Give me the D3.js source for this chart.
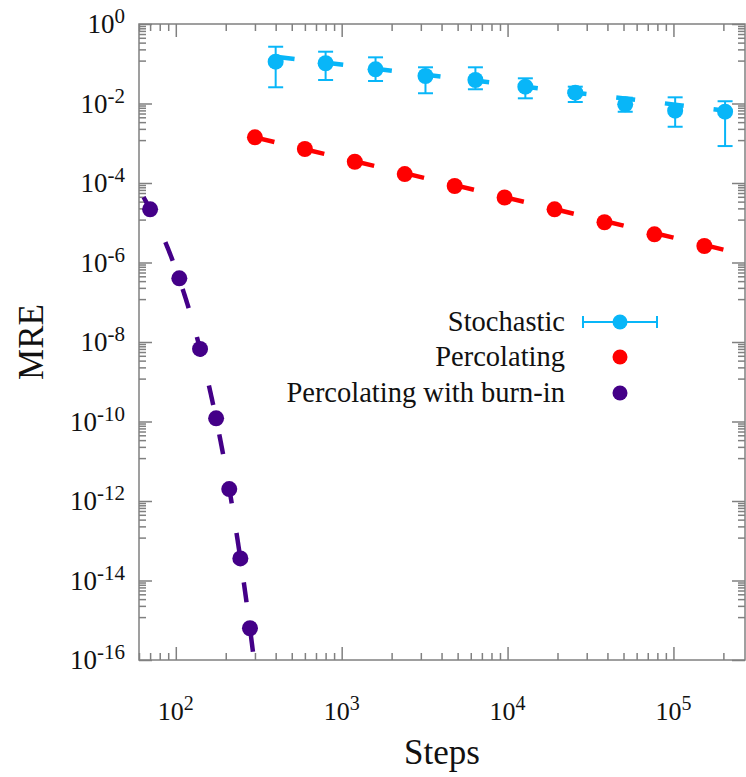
<!DOCTYPE html>
<html>
<head>
<meta charset="utf-8">
<script src="https://cdn.jsdelivr.net/npm/d3@7"></script>
<style>
  body { margin: 0; background: #fff; }
  svg { font-family: "Liberation Serif", "Times New Roman", serif; }
</style>
</head>
<body>
<div id="chart"></div>
<script>
// data
var stochSteps = [400, 800, 1600, 3200, 6400, 12800, 25600, 51200, 102400, 204800];
var stochMRE   = [0.113, 0.103, 0.0725, 0.0492, 0.039, 0.0265, 0.0187, 0.00955, 0.00659, 0.00622];
var stochLow   = [0.0256, 0.039, 0.0368, 0.0181, 0.0228, 0.0135, 0.0109, 0.0062, 0.0026, 0.00085];
var stochHigh  = [0.268, 0.201, 0.145, 0.0814, 0.0814, 0.043, 0.0265, 0.014, 0.0143, 0.0114];

var percSteps = [300, 600, 1200, 2400, 4800, 9600, 19200, 38400, 76800, 153600];
var percMRE   = [1.41e-3, 7.17e-4, 3.43e-4, 1.68e-4, 8.41e-5, 4.31e-5, 2.18e-5, 1.03e-5, 5.12e-6, 2.60e-6];

var burnSteps = [70, 105, 140, 175, 210, 245, 280];
var burnMRE   = [2.18e-5, 4.0e-7, 6.7e-9, 1.2e-10, 2.0e-12, 3.6e-14, 6.3e-16];

// fitted curves (dashed lines)
var stochFit = { c: 3.0, p: -0.5 };      // c * x^p
var percFit  = { c: 0.423, p: -1 };
var burnFit  = { a: -1.148, k: 0.050195 }; // log10(y) = a - k*x

var xMajor = [100, 1000, 10000, 100000];
var xExps  = ["2", "3", "4", "5"];
var yExps  = [0, -2, -4, -6, -8, -10, -12, -14, -16];
var legendLabels = ["Stochastic", "Percolating", "Percolating with burn-in"];

var blue = "#08b6f8", red = "#ff0000", purple = "#440088";
var axisColor = "#808080";

var W = 746, H = 777;
var pL = 139, pR = 745, pT = 24, pB = 660;

var svg = d3.select("#chart").append("svg")
    .attr("width", W).attr("height", H);

var x = d3.scaleLog().domain([60, 2.7e5]).range([pL, pR]);
var y = d3.scaleLog().domain([1e-16, 1]).range([pB, pT]);

// tick values
var xMinor = [];
for (var k = 1; k <= 5; k++) {
    for (var j = 2; j <= 9; j++) {
        var v = j * Math.pow(10, k);
        if (v >= 60 && v <= 2.7e5) xMinor.push(v);
    }
}
var yMajor = yExps.map(function(e){ return Math.pow(10, e); });
var yMinor = [];
yExps.forEach(function(e){
    if (e - 2 < -16) return;
    for (var n = 1; n <= 8; n++) yMinor.push(Math.pow(10, e - 2) * (1 + 11 * n));
});

function ticks(axis, vals, size, tr) {
    svg.append("g").attr("transform", tr)
        .call(axis.tickValues(vals).tickSize(size).tickSizeOuter(0).tickFormat(""))
        .call(function(g){ g.select(".domain").remove(); })
        .selectAll("line")
        .attr("stroke", axisColor).attr("stroke-width", 1.5);
}

ticks(d3.axisBottom(x), xMajor, -13, "translate(0," + pB + ")");
ticks(d3.axisBottom(x), xMinor, -7, "translate(0," + pB + ")");
ticks(d3.axisTop(x), xMajor, -13, "translate(0," + pT + ")");
ticks(d3.axisTop(x), xMinor, -7, "translate(0," + pT + ")");
ticks(d3.axisLeft(y), yMajor, -13, "translate(" + pL + ",0)");
ticks(d3.axisLeft(y), yMinor, -7, "translate(" + pL + ",0)");
ticks(d3.axisRight(y), yMajor, -13, "translate(" + pR + ",0)");
ticks(d3.axisRight(y), yMinor, -7, "translate(" + pR + ",0)");

svg.append("rect")
    .attr("x", pL).attr("y", pT)
    .attr("width", pR - pL).attr("height", pB - pT)
    .attr("fill", "none").attr("stroke", axisColor).attr("stroke-width", 1.5);

// tick labels
var yl = svg.append("g").selectAll("text").data(yExps).enter()
    .append("text")
    .attr("x", 125)
    .attr("y", function(d){ return y(Math.pow(10, d)) + 9; })
    .attr("text-anchor", "end")
    .attr("font-size", 27)
    .attr("fill", "#111");
yl.append("tspan").text("10");
yl.append("tspan").attr("font-size", 21).attr("dy", -10).text(function(d){ return d === 0 ? "0" : "-" + (-d); });

var xl = svg.append("g").selectAll("text").data(xMajor).enter()
    .append("text")
    .attr("x", function(d){ return x(d); })
    .attr("y", 720)
    .attr("text-anchor", "middle")
    .attr("font-size", 26)
    .attr("fill", "#111");
xl.append("tspan").text("10");
xl.append("tspan").attr("font-size", 20).attr("dy", -10).text(function(d, i){ return xExps[i]; });

svg.append("text")
    .attr("x", (pL + pR) / 2).attr("y", 764)
    .attr("text-anchor", "middle").attr("font-size", 35).attr("fill", "#111")
    .text("Steps");

svg.append("text")
    .attr("transform", "translate(43," + (pT + pB) / 2 + ") rotate(-90)")
    .attr("text-anchor", "middle").attr("font-size", 35).attr("fill", "#111")
    .text("MRE");

// plot area
svg.append("clipPath").attr("id", "clip")
    .append("rect").attr("x", pL).attr("y", pT)
    .attr("width", pR - pL).attr("height", pB - pT);
var plot = svg.append("g").attr("clip-path", "url(#clip)");

var line = d3.line().x(function(d){ return x(d[0]); }).y(function(d){ return y(d[1]); });
var xEnd = x.domain()[1];

function powerLine(fit, x0) {
    return [x0, xEnd].map(function(v){ return [v, fit.c * Math.pow(v, fit.p)]; });
}

plot.append("path").datum(powerLine(stochFit, stochSteps[0]))
    .attr("d", line).attr("fill", "none").attr("stroke", blue)
    .attr("stroke-width", 4.5).attr("stroke-dasharray", "19,30");

plot.append("path").datum(powerLine(percFit, percSteps[0]))
    .attr("d", line).attr("fill", "none").attr("stroke", red)
    .attr("stroke-width", 4.5).attr("stroke-dasharray", "20,31.3");

var burnEnd = (burnFit.a + 16) / burnFit.k;
var burnLine = d3.range(0, 301).map(function(i){
    var v = 60 + i * (burnEnd - 60) / 300;
    return [v, Math.pow(10, burnFit.a - burnFit.k * v)];
});
// dash phase: a dash starts near step 232.5
var anchor = 232.5, period = 50, L = 0;
for (var i = 1; i < burnLine.length && burnLine[i][0] <= anchor; i++) {
    L += Math.hypot(x(burnLine[i][0]) - x(burnLine[i-1][0]), y(burnLine[i][1]) - y(burnLine[i-1][1]));
}
plot.append("path").datum(burnLine)
    .attr("d", line).attr("fill", "none").attr("stroke", purple)
    .attr("stroke-width", 4.5).attr("stroke-dasharray", "20,30")
    .attr("stroke-dashoffset", period - (L % period));

// error bars
var eb = plot.append("g").attr("stroke", blue).attr("stroke-width", 2);
stochSteps.forEach(function(s, i){
    var cx = x(s);
    eb.append("line").attr("x1", cx).attr("x2", cx).attr("y1", y(stochLow[i])).attr("y2", y(stochHigh[i]));
    eb.append("line").attr("x1", cx - 7.5).attr("x2", cx + 7.5).attr("y1", y(stochLow[i])).attr("y2", y(stochLow[i]));
    eb.append("line").attr("x1", cx - 7.5).attr("x2", cx + 7.5).attr("y1", y(stochHigh[i])).attr("y2", y(stochHigh[i]));
});

function dots(xs, ys, color) {
    plot.append("g").selectAll("circle").data(xs).enter()
        .append("circle")
        .attr("cx", function(d){ return x(d); })
        .attr("cy", function(d, i){ return y(ys[i]); })
        .attr("r", 8).attr("fill", color);
}
dots(stochSteps, stochMRE, blue);
dots(percSteps, percMRE, red);
dots(burnSteps, burnMRE, purple);

// legend
var legY = [322, 357, 393], legColors = [blue, red, purple];
var leg = svg.append("g");
leg.selectAll("text").data(legendLabels).enter()
    .append("text")
    .attr("x", 565).attr("y", function(d, i){ return legY[i] + 9; })
    .attr("text-anchor", "end").attr("font-size", 28.5).attr("fill", "#111")
    .text(function(d){ return d; });
var lg = leg.append("g").attr("stroke", blue).attr("stroke-width", 2);
lg.append("line").attr("x1", 583).attr("x2", 657).attr("y1", legY[0]).attr("y2", legY[0]);
lg.append("line").attr("x1", 583).attr("x2", 583).attr("y1", legY[0] - 6).attr("y2", legY[0] + 6);
lg.append("line").attr("x1", 657).attr("x2", 657).attr("y1", legY[0] - 6).attr("y2", legY[0] + 6);
leg.selectAll("circle").data(legColors).enter()
    .append("circle")
    .attr("cx", 620).attr("cy", function(d, i){ return legY[i]; })
    .attr("r", 7.5).attr("fill", function(d){ return d; });
</script>
</body>
</html>
